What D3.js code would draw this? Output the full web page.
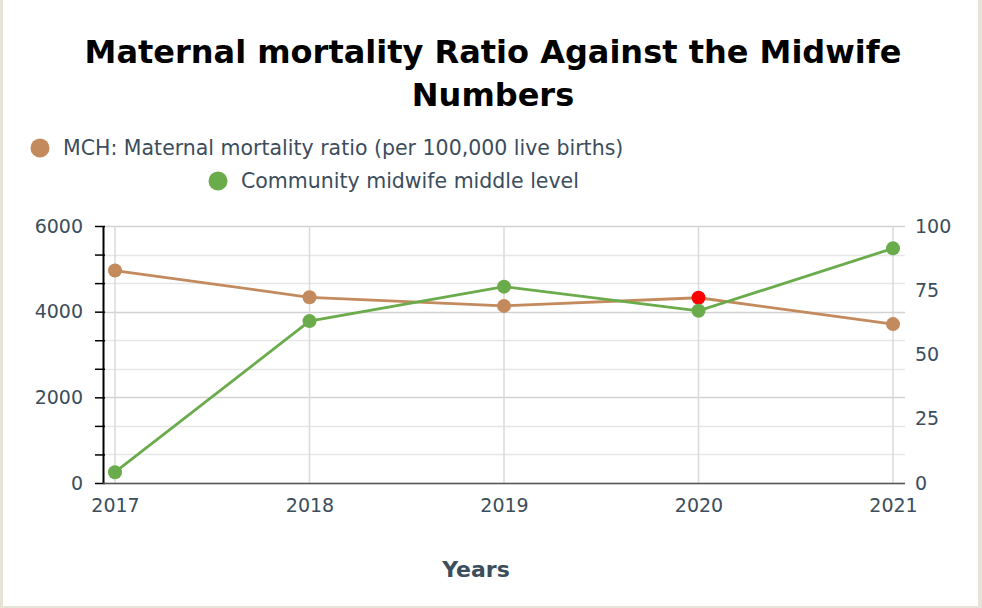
<!DOCTYPE html>
<html>
<head>
<meta charset="utf-8" />
<title>Maternal mortality Ratio Against the Midwife Numbers</title>
<script src="https://d3js.org/d3.v7.min.js"></script>
<style>
  html, body { margin: 0; padding: 0; background: #e6e4d6; }
  svg { display: block; }
</style>
</head>
<body>
<svg id="chart" width="982" height="608"></svg>
<script>
// data
var years = ["2017", "2018", "2019", "2020", "2021"];
var mchRatio = [4960, 4335, 4135, 4325, 3710];      // left axis
var midwifeCount = [4.2, 63, 76.4, 67, 91.3];        // right axis
var highlightYear = "2020";                          // red point on MCH series
var leftTicks = [0, 2000, 4000, 6000];
var rightTicks = [0, 25, 50, 75, 100];
var seriesNames = ["MCH: Maternal mortality ratio (per 100,000 live births)", "Community midwife middle level"];

var brown = "#c38a5d", green = "#6aab4b", textColor = "#3c4d5c";
var font = "DejaVu Sans, Verdana, sans-serif";

var svg = d3.select("#chart");
svg.append("rect").attr("x", 3).attr("y", 0).attr("width", 975).attr("height", 606).attr("fill", "#fff");

var plotLeft = 103, plotRight = 905, plotTop = 226, plotBottom = 483;

var x = d3.scalePoint().domain(years).range([115, 893]);
var yL = d3.scaleLinear().domain([0, 6000]).range([plotBottom, plotTop]);
var yR = d3.scaleLinear().domain([0, 100]).range([plotBottom, plotTop]);

// title
var title = svg.append("text").attr("text-anchor", "middle").attr("font-family", font)
  .attr("font-weight", "bold").attr("font-size", 32).attr("fill", "#000");
title.append("tspan").attr("x", 493).attr("y", 63).text("Maternal mortality Ratio Against the Midwife");
title.append("tspan").attr("x", 493).attr("y", 106).text("Numbers");

// legend
var legend = [{ cx: 40, cy: 148, c: brown }, { cx: 218, cy: 181, c: green }];
legend.forEach(function (l, i) {
  svg.append("circle").attr("cx", l.cx).attr("cy", l.cy).attr("r", 9.5).attr("fill", l.c);
  svg.append("text").attr("x", l.cx + 23).attr("y", l.cy + 7).attr("font-family", font)
    .attr("font-size", 20.5).attr("fill", textColor).text(seriesNames[i]);
});

// grid
var gridVals = d3.range(0, 6001, 2000 / 3);
svg.append("g").selectAll("line").data(gridVals).join("line")
  .attr("x1", plotLeft).attr("x2", plotRight)
  .attr("y1", function (d) { return Math.round(yL(d)) + 0.5; })
  .attr("y2", function (d) { return Math.round(yL(d)) + 0.5; })
  .attr("stroke", function (d, i) { return i % 3 === 0 ? "#d2d2d2" : "#e6e6e6"; })
  .attr("stroke-width", 1.5);
svg.append("g").selectAll("line").data(years).join("line")
  .attr("x1", function (d) { return x(d); }).attr("x2", function (d) { return x(d); })
  .attr("y1", plotTop).attr("y2", plotBottom)
  .attr("stroke", "#dadada").attr("stroke-width", 1.5);

// left axis
var axL = svg.append("g").attr("transform", "translate(" + plotLeft + ",0)")
  .call(d3.axisLeft(yL).tickValues(gridVals).tickSize(8).tickSizeOuter(0)
    .tickFormat(function (d, i) { return i % 3 === 0 ? d3.format("d")(d) : ""; }));
axL.select(".domain").attr("stroke", "#000").attr("stroke-width", 2);
axL.selectAll(".tick line").attr("stroke", "#000").attr("stroke-width", 1.5).attr("x2", -8).attr("x1", 2);
axL.selectAll(".tick text").attr("font-family", font).attr("font-size", 19).attr("fill", textColor).attr("x", -20);

// right axis
var axR = svg.append("g").attr("transform", "translate(" + plotRight + ",0)")
  .call(d3.axisRight(yR).tickValues(rightTicks).tickSize(0));
axR.select(".domain").remove();
axR.selectAll(".tick text").attr("font-family", font).attr("font-size", 19).attr("fill", textColor).attr("x", 10);

// bottom axis
var axB = svg.append("g").attr("transform", "translate(0," + plotBottom + ")")
  .call(d3.axisBottom(x).tickSize(0));
axB.select(".domain").attr("d", "M" + plotLeft + ",0.5H" + plotRight).attr("stroke", "#555").attr("stroke-width", 1.5);
axB.selectAll(".tick text").attr("font-family", font).attr("font-size", 19).attr("fill", textColor).attr("dy", "1.35em");

svg.append("text").attr("x", 476).attr("y", 577).attr("text-anchor", "middle").attr("font-family", font)
  .attr("font-weight", "bold").attr("font-size", 22).attr("fill", textColor).text("Years");

// lines
var mchLine = d3.line().x(function (d, i) { return x(years[i]); }).y(function (d) { return yL(d); });
var midLine = d3.line().x(function (d, i) { return x(years[i]); }).y(function (d) { return yR(d); });

svg.append("path").datum(mchRatio).attr("d", mchLine).attr("fill", "none").attr("stroke", brown).attr("stroke-width", 2.8);
svg.append("path").datum(midwifeCount).attr("d", midLine).attr("fill", "none").attr("stroke", green).attr("stroke-width", 2.8);

svg.append("g").selectAll("circle").data(mchRatio).join("circle")
  .attr("cx", function (d, i) { return x(years[i]); }).attr("cy", function (d) { return yL(d); }).attr("r", 7)
  .attr("fill", function (d, i) { return years[i] === highlightYear ? "#ff0000" : brown; });
svg.append("g").selectAll("circle").data(midwifeCount).join("circle")
  .attr("cx", function (d, i) { return x(years[i]); }).attr("cy", function (d) { return yR(d); }).attr("r", 7)
  .attr("fill", green);
</script>
</body>
</html>
